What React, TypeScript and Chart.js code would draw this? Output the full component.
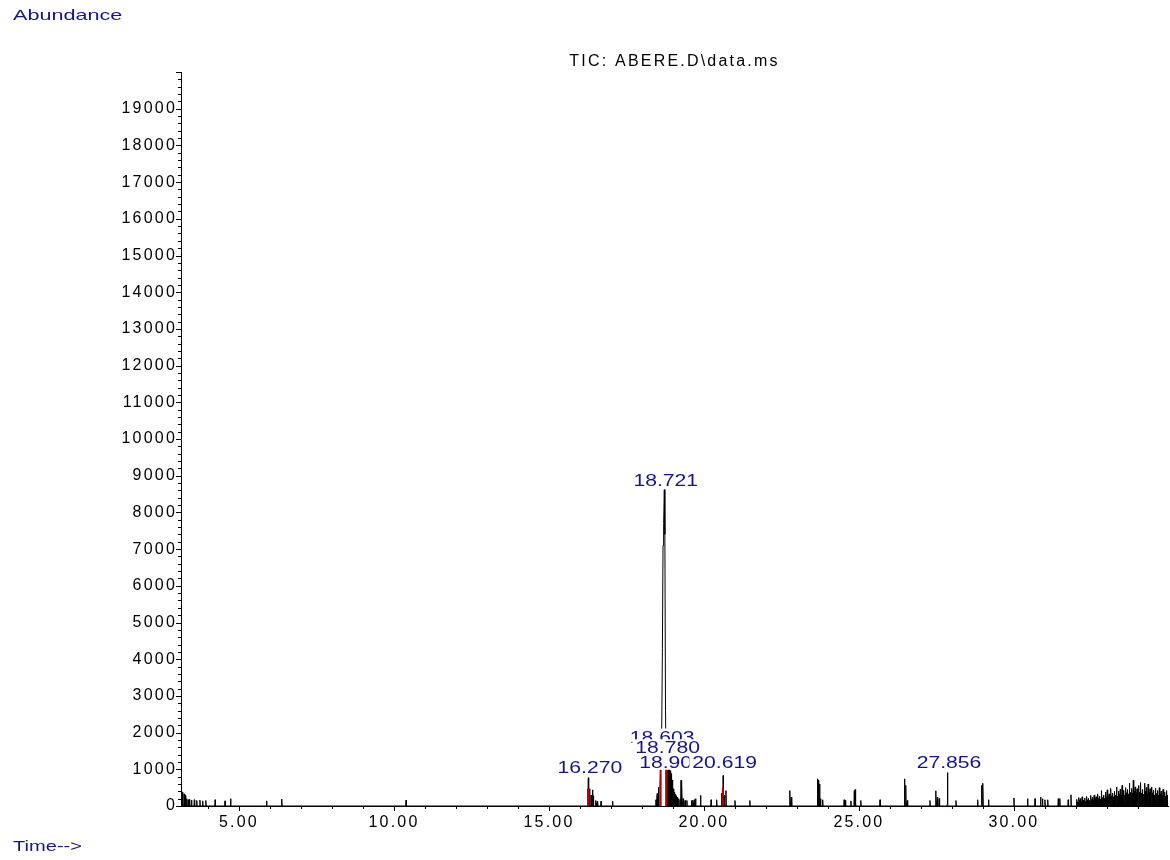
import React, { useEffect, useRef } from 'react';
import { Chart, registerables } from 'chart.js';

Chart.register(...registerables);

// ---------- data ----------
const X_MIN = 3.13;
const X_MAX = 34.97;
const Y_MAX = 20000;

const xTickValues = [5, 10, 15, 20, 25, 30];
const yTickValues = [0, 1000, 2000, 3000, 4000, 5000, 6000, 7000, 8000, 9000, 10000,
  11000, 12000, 13000, 14000, 15000, 16000, 17000, 18000, 19000];

const titleText = 'TIC: ABERE.D\\data.ms';
const yAxisText = 'Abundance';
const xAxisText = 'Time-->';

// isolated spikes of the TIC trace (retention time, abundance)
const spikeTimes = [
  3.14, 3.18, 3.23, 3.27, 3.31, 3.36, 3.40, 3.47, 3.56, 3.64, 3.74, 3.83, 3.93, 4.23, 4.55, 4.73, 5.89, 6.38, 10.39,
  16.24, 16.27, 16.31, 16.36, 16.41, 16.44, 16.51, 16.56, 16.68, 17.05,
  18.45, 18.49, 18.53,
  18.82, 18.85, 18.88, 18.91, 18.94, 18.97, 19.00, 19.03, 19.06, 19.09, 19.12, 19.15, 19.18, 19.23, 19.26, 19.29,
  19.33, 19.39, 19.45, 19.60, 19.64, 19.69, 19.73, 19.89, 20.23, 20.41, 20.57, 20.619, 20.66, 20.71, 21.00, 21.48,
  22.77, 22.82, 23.66, 23.69, 23.73, 23.76, 23.83, 24.52, 24.56, 24.74, 24.85, 24.88, 25.06, 25.68, 26.47, 26.51,
  26.56, 27.29, 27.48, 27.53, 27.59, 27.856, 28.13, 28.83, 28.96, 29.00, 29.18, 30.00, 30.44, 30.68, 30.86, 30.92,
  31.00, 31.09, 31.43, 31.48, 31.75, 31.84,
  32.02, 32.05, 32.08, 32.11, 32.14, 32.17, 32.20, 32.23, 32.26, 32.29, 32.32, 32.35, 32.38, 32.41, 32.44, 32.47,
  32.50, 32.53, 32.56, 32.59, 32.62, 32.65, 32.68, 32.71, 32.74, 32.77, 32.80, 32.83, 32.86, 32.89, 32.92, 32.95,
  32.98, 33.01, 33.04, 33.07, 33.10, 33.13, 33.16, 33.19, 33.22, 33.25, 33.28, 33.31, 33.34, 33.37, 33.40, 33.43,
  33.46, 33.49, 33.52, 33.55, 33.58, 33.61, 33.64, 33.67, 33.70, 33.73, 33.76, 33.79, 33.82, 33.85, 33.88, 33.91,
  33.94, 33.97, 34.00, 34.03, 34.06, 34.09, 34.12, 34.15, 34.18, 34.21, 34.24, 34.27, 34.30, 34.33, 34.36, 34.39,
  34.42, 34.45, 34.48, 34.51, 34.54, 34.57, 34.60, 34.63, 34.66, 34.69, 34.72, 34.75, 34.78, 34.81, 34.84, 34.87,
  34.90, 34.93, 34.96,
];
const spikeHeights = [
  400, 376, 330, 286, 200, 170, 180, 160, 170, 150, 160, 140, 150, 170, 140, 200, 140, 190, 160,
  250, 770, 470, 300, 440, 280, 150, 130, 130, 130,
  170, 340, 510,
  960, 1000, 1010, 960, 880, 710, 560, 470, 380, 320, 280, 240, 200, 170, 700, 560,
  200, 150, 150, 150, 160, 170, 200, 290, 170, 170, 350, 830, 300, 420, 150, 150,
  420, 240, 740, 700, 600, 200, 170, 170, 150, 140, 420, 450, 150, 170, 740, 560,
  150, 150, 415, 240, 200, 910, 150, 170, 560, 620, 170, 220, 200, 200, 240, 200,
  170, 170, 200, 200, 170, 305,
  180, 120, 230, 150, 200, 110, 250, 160, 140, 220, 130, 260, 170, 210, 150, 290,
  180, 240, 160, 300, 200, 250, 180, 330, 210, 270, 190, 420, 230, 300, 210, 380,
  250, 440, 260, 330, 230, 480, 280, 350, 250, 400, 300, 520, 270, 410, 320, 460,
  290, 560, 340, 430, 300, 500, 360, 450, 330, 620, 370, 480, 340, 700, 400, 520,
  360, 470, 330, 560, 380, 640, 350, 450, 320, 620, 400, 500, 340, 600, 380, 470,
  330, 520, 360, 430, 300, 480, 340, 420, 290, 500, 330, 400, 280, 450, 310, 380,
  270, 420, 300,
];

// profile of the main peak (continuous trace points)
const mainPeakTimes = [18.56, 18.58, 18.60, 18.63, 18.66, 18.68, 18.70, 18.721, 18.74, 18.76, 18.78, 18.795];
const mainPeakHeights = [0, 520, 980, 1350, 4300, 7100, 7700, 8620, 7400, 2600, 1000, 0];

// red integration markers
const integrationTimes = [16.26, 18.603, 18.78, 20.61, 27.85];
const integrationHeights = [470, 980, 980, 500, 40];

// peak annotations: retention time and abundance level of the text baseline
const peakLabelTimes = [18.721, 16.270, 18.603, 18.780, 18.903, 20.619, 27.856];
const peakLabelLevels = [8706, 891, 1730, 1436, 1027, 1027, 1027];

// ---------- styles ----------
const FONT_FAMILY = "'Liberation Sans', Arial, sans-serif";
const NAVY = '#16168a';
const SPIKE_HALF = 0.012;

const overlayPlugin = {
  id: 'overlay',
  beforeDraw(chart: any) {
    chart.ctx.letterSpacing = '2.2px';
  },
  afterDatasetsDraw(chart: any) {
    const { ctx, scales } = chart;
    const x = scales.x;
    const y = scales.y;
    ctx.save();
    ctx.letterSpacing = '0px';
    ctx.font = `16px ${FONT_FAMILY}`;
    const capH = 11.5;
    const sx = 1.32;
    peakLabelTimes.forEach((t, i) => {
      const text = t.toFixed(3);
      const w = ctx.measureText(text).width * sx;
      const cx = x.getPixelForValue(t) + 1.5;
      const base = y.getPixelForValue(peakLabelLevels[i]);
      ctx.fillStyle = '#ffffff';
      ctx.fillRect(cx - w / 2 - 3, base - capH - 2.5, w + 6, capH + 4);
      ctx.save();
      ctx.translate(cx - w / 2, base);
      ctx.scale(sx, 1);
      ctx.fillStyle = NAVY;
      ctx.textBaseline = 'alphabetic';
      ctx.textAlign = 'left';
      ctx.fillText(text, 0, 0);
      ctx.restore();
    });
    ctx.restore();
  },
  afterDraw(chart: any) {
    const { ctx, scales, chartArea } = chart;
    const x = scales.x;
    const y = scales.y;
    ctx.save();
    ctx.strokeStyle = '#000';
    ctx.lineWidth = 1;
    ctx.beginPath();
    for (let t = Math.ceil(x.min); t <= Math.floor(x.max); t++) {
      const px = Math.round(x.getPixelForValue(t)) + 0.5;
      const len = t % 5 === 0 ? 5 : 3;
      ctx.moveTo(px, chartArea.bottom);
      ctx.lineTo(px, chartArea.bottom + len);
    }
    for (let v = 0; v <= y.max; v += 200) {
      const py = Math.round(y.getPixelForValue(v)) + 0.5;
      const len = v % 1000 === 0 ? 5 : 3;
      ctx.moveTo(chartArea.left - len, py);
      ctx.lineTo(chartArea.left, py);
    }
    ctx.stroke();
    ctx.restore();
  },
};

export default function App() {
  const canvasRef = useRef<HTMLCanvasElement | null>(null);

  useEffect(() => {
    const canvas = canvasRef.current;
    if (!canvas) return;

    const trace: { x: number; y: number }[] = [];
    spikeTimes.forEach((t, i) => {
      trace.push({ x: t - SPIKE_HALF, y: 0 }, { x: t, y: spikeHeights[i] }, { x: t + SPIKE_HALF, y: 0 });
    });
    mainPeakTimes.forEach((t, i) => trace.push({ x: t, y: mainPeakHeights[i] }));
    trace.sort((a, b) => a.x - b.x);

    const redData: { x: number; y: number | null }[] = [];
    integrationTimes.forEach((t, i) => {
      redData.push({ x: t, y: 0 }, { x: t, y: integrationHeights[i] }, { x: t, y: null });
    });

    const tickFont = { family: FONT_FAMILY, size: 16 };

    const chart = new Chart(canvas, {
      type: 'line',
      data: {
        datasets: [
          {
            label: 'integration',
            data: redData as any,
            borderColor: '#c00000',
            borderWidth: 2,
            pointRadius: 0,
            spanGaps: false,
            tension: 0,
          },
          {
            label: 'TIC',
            data: trace as any,
            borderColor: '#000000',
            borderWidth: 1,
            pointRadius: 0,
            tension: 0,
          },
        ],
      },
      options: {
        responsive: false,
        animation: false,
        devicePixelRatio: 1,
        layout: { padding: { left: 0, right: 2, top: 38, bottom: 0 } },
        plugins: {
          legend: { display: false },
          tooltip: { enabled: false },
          title: {
            display: true,
            text: titleText,
            fullSize: false,
            color: '#000',
            font: { family: FONT_FAMILY, size: 16, weight: 'normal', lineHeight: 1.25 },
            padding: { top: 14, bottom: 0 },
          },
        },
        scales: {
          x: {
            type: 'linear',
            min: X_MIN,
            max: X_MAX,
            grid: { display: false },
            border: { display: true, color: '#000', width: 1 },
            afterBuildTicks: (s: any) => {
              s.ticks = xTickValues.map((v) => ({ value: v }));
            },
            afterFit: (s: any) => {
              s.height = 54;
            },
            ticks: {
              color: '#000',
              font: tickFont,
              padding: -1,
              maxRotation: 0,
              autoSkip: false,
              callback: (v: any) => Number(v).toFixed(2),
            },
          },
          y: {
            type: 'linear',
            min: 0,
            max: Y_MAX,
            grid: { display: false },
            border: { display: true, color: '#000', width: 1 },
            afterBuildTicks: (s: any) => {
              s.ticks = yTickValues.map((v) => ({ value: v }));
            },
            afterFit: (s: any) => {
              s.width = 181;
            },
            ticks: {
              color: '#000',
              font: tickFont,
              padding: -4,
              autoSkip: false,
              callback: (v: any) => String(v),
            },
          },
        },
      } as any,
      plugins: [overlayPlugin],
    });

    return () => chart.destroy();
  }, []);

  return (
    <div style={{ position: 'fixed', left: 0, top: 0, width: 1170, height: 860, background: '#fff', overflow: 'hidden' }}>
      <canvas ref={canvasRef} width={1170} height={860} style={{ position: 'absolute', left: 0, top: 0 }} />
      <div
        style={{
          position: 'absolute', left: 13, top: 7, fontFamily: FONT_FAMILY, fontSize: 15, lineHeight: '15px',
          color: NAVY, transform: 'scaleX(1.44)', transformOrigin: 'left top', whiteSpace: 'nowrap',
        }}
      >
        {yAxisText}
      </div>
      <div
        style={{
          position: 'absolute', left: 13, top: 838, fontFamily: FONT_FAMILY, fontSize: 15, lineHeight: '15px',
          color: NAVY, transform: 'scaleX(1.34)', transformOrigin: 'left top', whiteSpace: 'nowrap',
        }}
      >
        {xAxisText}
      </div>
    </div>
  );
}
